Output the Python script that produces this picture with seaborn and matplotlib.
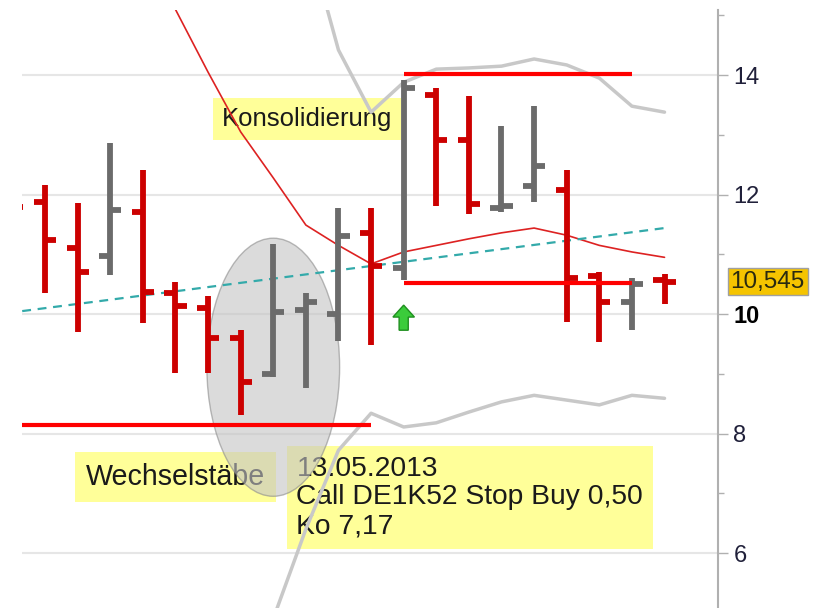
import matplotlib
matplotlib.use("Agg")
import matplotlib.pyplot as plt
from matplotlib.patches import Ellipse
from matplotlib.ticker import MultipleLocator
import seaborn as sns
import numpy as np

# daily OHLC bars (index 0 = leftmost, partly cut off)
opens  = [12.10, 11.87, 11.10, 10.97, 11.71, 10.35, 10.10, 9.60, 9.00, 10.07, 10.00,
          11.36, 10.77, 13.67, 12.91, 11.77, 12.14, 12.08, 10.64, 10.20, 10.57]
highs  = [12.30, 12.16, 11.86, 12.86, 12.41, 10.54, 10.30, 9.73, 11.17, 10.35, 11.77,
          11.77, 13.92, 13.78, 13.65, 13.15, 13.48, 12.41, 10.70, 10.60, 10.67]
lows   = [11.30, 10.35, 9.70, 10.65, 9.85, 9.01, 9.01, 8.31, 8.95, 8.76, 9.55,
          9.48, 10.57, 11.81, 11.67, 11.71, 11.87, 9.87, 9.53, 9.73, 10.17]
closes = [11.79, 11.24, 10.70, 11.74, 10.37, 10.13, 9.60, 8.86, 10.03, 10.20, 11.31,
          10.80, 13.78, 12.91, 11.84, 11.81, 12.48, 10.60, 10.20, 10.50, 10.545]

# moving average and bollinger bands
sma_x = list(range(5, 21))
sma_y = [15.10, 14.05, 13.05, 12.28, 11.49, 11.15, 10.84, 11.04, 11.15, 11.26,
         11.36, 11.44, 11.32, 11.15, 11.04, 10.95]
upper_x = list(range(9, 21))
upper_y = [16.40, 14.42, 13.38, 13.88, 14.10, 14.12, 14.15, 14.27, 14.17, 13.95, 13.48, 13.38]
lower_x = list(range(8, 21))
lower_y = [4.90, 6.40, 7.72, 8.34, 8.11, 8.18, 8.36, 8.53, 8.64, 8.56, 8.48, 8.64, 8.59]

# trend line
trend_x = [0.3, 20]
trend_y = [10.05, 11.44]

# drawn levels
support_level = 8.14
support_end = 11
range_high = 14.02
range_low = 10.52
range_start, range_end = 12, 19

signal_bar = 12
signal_base, signal_tip = 9.73, 10.15

last_price = 10.545
yticks = [6, 8, 10, 12, 14]

sns.set_style("white")
plt.rcParams["font.family"] = ["Liberation Sans", "DejaVu Sans"]

fig = plt.figure(figsize=(8.21, 6.08), dpi=100)
ax = fig.add_axes([22 / 821, 0, 696 / 821, 598 / 608])

x = np.arange(len(opens))
cols = ["#6b6b6b" if c >= o else "#cc0000" for o, c in zip(opens, closes)]

ax.vlines(x, lows, highs, colors=cols, lw=4.2, zorder=5)
ax.hlines(opens, x - 0.34, x, colors=cols, lw=4.2, zorder=5)
ax.hlines(closes, x, x + 0.34, colors=cols, lw=4.2, zorder=5)

sns.lineplot(x=upper_x, y=upper_y, ax=ax, color="#c8c8c8", lw=2.5, zorder=3)
sns.lineplot(x=lower_x, y=lower_y, ax=ax, color="#c8c8c8", lw=2.5, zorder=3)
sns.lineplot(x=sma_x, y=sma_y, ax=ax, color="#dd2222", lw=1.2, zorder=4)
sns.lineplot(x=trend_x, y=trend_y, ax=ax, color="#33aaaa", lw=1.6, linestyle=(0, (4, 3)), zorder=4)

ax.hlines(support_level, -1, support_end, colors="#ff0000", lw=3, zorder=6)
ax.hlines([range_high, range_low], range_start, range_end, colors="#ff0000", lw=3, zorder=6)

ax.arrow(signal_bar, signal_base, 0, signal_tip - signal_base, width=0.28, head_width=0.66,
         head_length=0.2, length_includes_head=True, fc="#3bcc3b", ec="#1f8f1f", lw=1, zorder=6)

ax.add_patch(Ellipse((8.0, 9.11), 4.07, 4.32, fc="#c4c4c4", ec="#8c8c8c", lw=1, alpha=0.6, zorder=2))

box = dict(boxstyle="square,pad=0.35", fc="#ffff99", ec="none")
ax.text(6.42, 13.27, "Konsolidierung", fontsize=18.5, va="center", ha="left", color="#1a1a1a", bbox=box, zorder=1)
ax.text(2.26, 7.27, "Wechselstäbe", fontsize=20.6, va="center", ha="left", color="#1a1a1a",
        bbox=dict(boxstyle="square,pad=0.38", fc="#ffff99", ec="none"), zorder=1)
ax.text(8.71, 6.93, "13.05.2013\nCall DE1K52 Stop Buy 0,50\nKo 7,17", fontsize=20.3, va="center", ha="left",
        linespacing=1.13, color="#1a1a1a", bbox=dict(boxstyle="square,pad=0.35", fc="#ffff99", ec="none"), zorder=1)

ax.set_xlim(0.294, 21.64)
ax.set_ylim(5.08, 15.09)

ax.yaxis.tick_right()
ax.set_yticks(yticks)
ax.yaxis.set_minor_locator(MultipleLocator(1))
ax.tick_params(axis="y", which="major", length=7, width=1, color="#b0b0b0", pad=4,
               labelsize=17, labelcolor="#20203a")
ax.tick_params(axis="y", which="minor", length=4, width=1, color="#b0b0b0")
ax.set_xticks([])
for lab in ax.get_yticklabels():
    if lab.get_text() == "10":
        lab.set_fontweight("bold")
        lab.set_color("black")

ax.grid(axis="y", which="major", color="#e6e6e6", lw=1.5, zorder=0)
ax.set_axisbelow(True)
for s in ["left", "top", "bottom"]:
    ax.spines[s].set_visible(False)
ax.spines["right"].set_color("#b0b0b0")
ax.spines["right"].set_linewidth(1.5)

ax.annotate("10,545", xy=(1.0, last_price), xycoords=("axes fraction", "data"),
            xytext=(9, 0), textcoords="offset points", fontsize=17.5, va="center", ha="left",
            color="#2a2a10", annotation_clip=False,
            bbox=dict(boxstyle="square,pad=0.12", fc="#f5c400", ec="#a0a0a0", lw=1))

fig.savefig("out.png", dpi=100)
